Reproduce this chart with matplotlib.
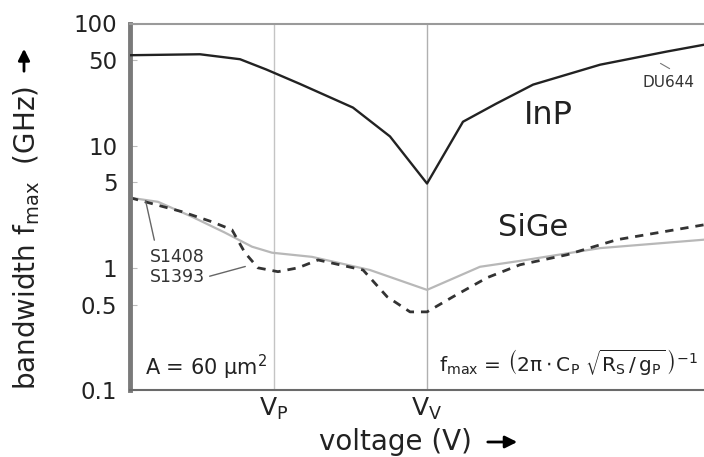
import numpy as np
import matplotlib
matplotlib.use("Agg")
import matplotlib.pyplot as plt

plt.rcParams['font.family'] = ['DejaVu Sans']
plt.rcParams['mathtext.default'] = 'regular'

# voltage axis in arbitrary units: V_P = 1, V_V = 2
x_min, x_max = 0.059, 3.81
v_p, v_v = 1.0, 2.0

# InP (DU644)
inp_x = [0.059, 0.516, 0.778, 0.95, 1.170, 1.516, 1.758, 2.0, 2.235, 2.45, 2.693, 3.131, 3.569, 3.81]
inp_y = [55, 56, 51, 42, 32, 20.5, 11.9, 4.9, 15.7, 22, 31.6, 46, 59, 67]

# SiGe S1408 (solid grey)
s1408_x = [0.059, 0.242, 0.464, 0.680, 0.856, 0.987, 1.248, 1.627, 2.0, 2.346, 2.608, 3.131, 3.81]
s1408_y = [3.75, 3.47, 2.62, 1.94, 1.49, 1.33, 1.23, 0.96, 0.66, 1.02, 1.14, 1.45, 1.70]

# SiGe S1393 (dashed)
s1393_x = [0.059, 0.399, 0.595, 0.725, 0.810, 0.895, 1.026, 1.157, 1.288, 1.582, 1.739,
           1.889, 2.0, 2.170, 2.392, 2.608, 2.915, 3.242, 3.81]
s1393_y = [3.75, 2.88, 2.38, 2.05, 1.33, 1.0, 0.93, 1.0, 1.16, 0.96, 0.58,
           0.436, 0.436, 0.58, 0.83, 1.06, 1.28, 1.70, 2.25]

y_ticks = [0.1, 0.5, 1, 5, 10, 50, 100]
y_labels = ['0.1', '0.5', '1', '5', '10', '50', '100']

fig = plt.figure(figsize=(7.04, 4.57), dpi=100)
ax = fig.add_axes([130/704, 1-390/457, 1-130/704, (390-23.5)/457])

ax.axvline(v_p, color='#c4c4c4', lw=1.0, zorder=1)
ax.axvline(v_v, color='#b0b0b0', lw=1.0, zorder=1)

ax.plot(inp_x, inp_y, color='#222222', lw=1.7, zorder=3)
ax.plot(s1408_x, s1408_y, color='#b8b8b8', lw=1.6, zorder=2)
ax.plot(s1393_x, s1393_y, color='#333333', lw=2.0, ls=(0, (3, 2.5)), zorder=2)

ax.set_yscale('log')
ax.set_ylim(0.1, 100)
ax.set_xlim(x_min, x_max)
ax.set_yticks(y_ticks)
ax.set_yticklabels(y_labels)
ax.yaxis.set_minor_locator(matplotlib.ticker.NullLocator())
ax.tick_params(axis='y', direction='in', length=5, color='#bbbbbb', labelsize=16.5, pad=9,
               labelcolor='#222222')
ax.set_xticks([v_p, v_v])
ax.set_xticklabels(['$V_P$', '$V_V$'])
ax.tick_params(axis='x', length=0, labelsize=18, pad=4, labelcolor='#222222')

ax.spines['right'].set_visible(False)
ax.spines['left'].set_color('#7a7a7a')
ax.spines['left'].set_linewidth(3.5)
ax.spines['top'].set_color('#9a9a9a')
ax.spines['top'].set_linewidth(1.5)
ax.spines['bottom'].set_color('#6a6a6a')
ax.spines['bottom'].set_linewidth(1.5)

# curve labels
ax.text(2.791, 17.8, 'InP', fontsize=23, ha='center', va='center', color='#222222')
ax.text(2.693, 2.12, 'SiGe', fontsize=22, ha='center', va='center', color='#222222')
ax.text(3.405, 33.2, 'DU644', fontsize=11, ha='left', va='center', color='#333333')
ax.annotate('', xy=(3.601, 41.6), xytext=(3.510, 48.4),
            arrowprops=dict(arrowstyle='-', color='#777777', lw=0.8))
ax.text(0.190, 1.23, 'S1408', fontsize=12.5, ha='left', va='center', color='#333333')
ax.text(0.190, 0.842, 'S1393', fontsize=12.5, ha='left', va='center', color='#333333')
ax.annotate('', xy=(0.222, 1.6), xytext=(0.157, 3.73),
            arrowprops=dict(arrowstyle='-', color='#666666', lw=1.0))
ax.annotate('', xy=(0.830, 1.04), xytext=(0.562, 0.842),
            arrowprops=dict(arrowstyle='-', color='#666666', lw=1.0))

ax.text(0.157, 0.152, r'A = 60 $\mu$m$^2$', fontsize=15, ha='left', va='center',
        color='#222222')
ax.text(2.075, 0.167,
        r'$f_{max}$ = $\left(2\pi \cdot C_P\ \sqrt{R_S\,/\,g_P}\,\right)^{-1}$',
        fontsize=14.5, ha='left', va='center', color='#222222')

# axis labels with arrows
fig.text(395/704, 1-442/457, 'voltage (V)', fontsize=20, ha='center', va='center',
         color='#222222')
fig.text(27/704, 1-238/457, 'bandwidth $f_{max}$  (GHz)', fontsize=20, rotation=90,
         ha='center', va='center', color='#222222')
ax.annotate('', xy=(520/704, 1-442/457), xytext=(485/704, 1-442/457),
            xycoords='figure fraction', textcoords='figure fraction',
            arrowprops=dict(arrowstyle='-|>', color='black', lw=2.0, mutation_scale=18))
ax.annotate('', xy=(24/704, 1-46/457), xytext=(24/704, 1-74/457),
            xycoords='figure fraction', textcoords='figure fraction',
            arrowprops=dict(arrowstyle='-|>', color='black', lw=2.0, mutation_scale=17))

fig.savefig('out.png', dpi=100)
